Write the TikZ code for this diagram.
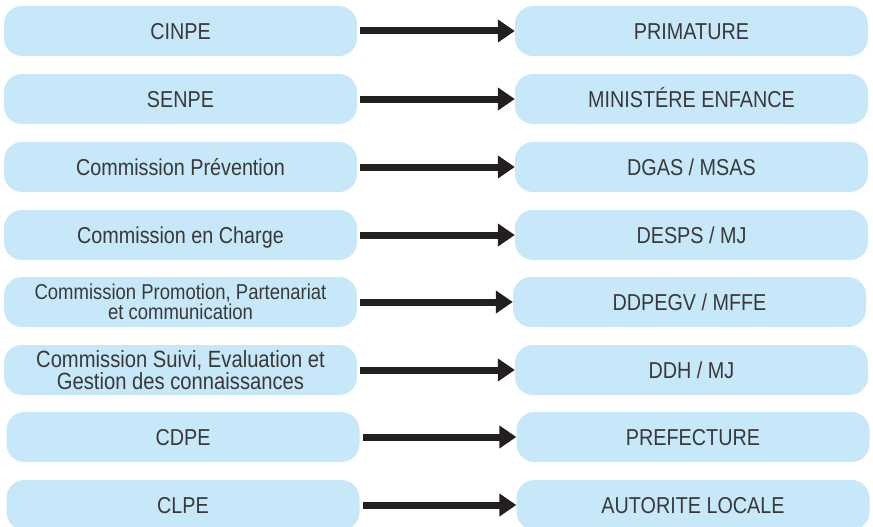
\documentclass[tikz,border=0pt]{standalone}
\usepackage{fontspec}
\setmainfont{Liberation Sans}
\newfontfamily\narrowsans[FakeStretch=0.86]{Liberation Sans}
\usetikzlibrary{arrows.meta}
\definecolor{boxblue}{HTML}{C7E8F8}
\definecolor{ink}{HTML}{231F20}
\definecolor{label}{HTML}{3A3839}
\begin{document}
\begin{tikzpicture}[x=1pt,y=-1pt,
  cell/.style={fill=boxblue, rounded corners=18pt, minimum width=353pt,
    minimum height=50pt, inner sep=0pt, text=label, align=center,
    font=\narrowsans\fontsize{23}{26}\selectfont},
  one/.style={text height=16.5pt, text depth=0pt},
  twoa/.style={font=\narrowsans\fontsize{21.5}{20}\selectfont},
  twob/.style={font=\narrowsans\fontsize{23.5}{22.7}\selectfont},
  link/.style={draw=ink, line width=7pt, shorten <=3pt,
    -{Triangle[length=17pt,width=22pt]}}]
\useasboundingbox (0,0) rectangle (873,527);
\clip (0,0) rectangle (873,527);

% left column: committees
\node[cell,one] (l1) at (180.5,31)  {CINPE};
\node[cell,one] (l2) at (180.5,99)  {SENPE};
\node[cell,one] (l3) at (180.5,167) {Commission Prévention};
\node[cell,one] (l4) at (180.5,235) {Commission en Charge};
\node[cell,twoa] (l5) at (180.5,302) {Commission Promotion, Partenariat\\et communication};
\node[cell,twob] (l6) at (180.5,370) {Commission Suivi, Evaluation et\\Gestion des connaissances};
\node[cell,one] (l7) at (183,437) {CDPE};
\node[cell,one] (l8) at (183,505) {CLPE};

% right column: supervising bodies
\node[cell,one] (r1) at (691.5,31)  {PRIMATURE};
\node[cell,one] (r2) at (691.5,99)  {MINISTÉRE ENFANCE};
\node[cell,one] (r3) at (691.5,167) {DGAS / MSAS};
\node[cell,one] (r4) at (691.5,235) {DESPS / MJ};
\node[cell,one] (r5) at (689.5,302) {DDPEGV / MFFE};
\node[cell,one] (r6) at (691.5,370) {DDH / MJ};
\node[cell,one] (r7) at (693,437) {PREFECTURE};
\node[cell,one] (r8) at (693,505) {AUTORITE LOCALE};

% links
\foreach \i in {1,...,8}
  \draw[link] (l\i.east) -- (r\i.west);
\end{tikzpicture}
\end{document}
